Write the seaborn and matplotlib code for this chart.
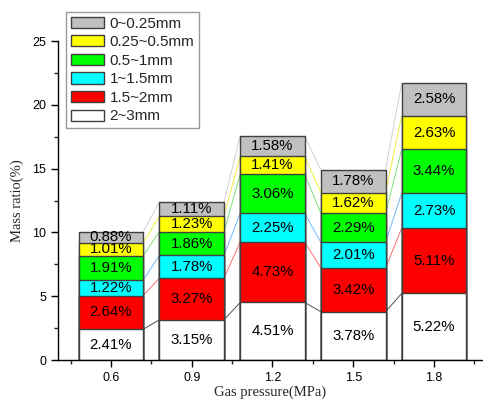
import matplotlib
matplotlib.use("Agg")
import matplotlib.pyplot as plt
import seaborn as sns
import numpy as np
import pandas as pd
from matplotlib.patches import Patch
from matplotlib.ticker import MultipleLocator, FixedLocator

pressures = ["0.6", "0.9", "1.2", "1.5", "1.8"]
size_labels = ["2~3mm", "1.5~2mm", "1~1.5mm", "0.5~1mm", "0.25~0.5mm", "0~0.25mm"]
v_2_3 = [2.41, 3.15, 4.51, 3.78, 5.22]
v_15_2 = [2.64, 3.27, 4.73, 3.42, 5.11]
v_1_15 = [1.22, 1.78, 2.25, 2.01, 2.73]
v_05_1 = [1.91, 1.86, 3.06, 2.29, 3.44]
v_025_05 = [1.01, 1.23, 1.41, 1.62, 2.63]
v_0_025 = [0.88, 1.11, 1.58, 1.78, 2.58]
series = [v_2_3, v_15_2, v_1_15, v_05_1, v_025_05, v_0_025]
fill_colors = ["#FFFFFF", "#FF0000", "#00FFFF", "#00FF00", "#FFFF00", "#C0C0C0"]
link_colors = ["#505050", "#FF7070", "#70B8FF", "#80E080", "#F0F040", "#D0D0D0"]

sns.set_style("ticks")
plt.rcParams["font.family"] = ["Liberation Sans", "DejaVu Sans"]

fig = plt.figure(figsize=(4.83, 3.99), dpi=100)
ax = fig.add_axes([0.120, 0.0977, 0.880, 0.7995])

vals = np.array(series)
cum = np.cumsum(vals, axis=0)

# draw from top layer down so stacked look is produced by overlap
for k in range(len(series) - 1, -1, -1):
    df = pd.DataFrame({"p": pressures, "v": cum[k]})
    sns.barplot(data=df, x="p", y="v", order=pressures, color=fill_colors[k],
                saturation=1, edgecolor="#404040", linewidth=1.0, width=0.8,
                ax=ax, zorder=2)

# connection lines between bars
hw = 0.4
for k in range(len(series)):
    for i in range(len(pressures) - 1):
        ax.plot([i + hw, i + 1 - hw], [cum[k][i], cum[k][i + 1]],
                color=link_colors[k], lw=0.7, zorder=1)

# labels
for k in range(len(series)):
    for i in range(len(pressures)):
        base = cum[k][i] - vals[k][i]
        ax.text(i, base + vals[k][i] / 2, f"{vals[k][i]:.2f}%",
                ha="center", va="center", fontsize=10.8, color="black", zorder=3)

ax.set_xlim(-0.656, 4.607)
ax.set_ylim(0, 25)
ax.yaxis.set_major_locator(MultipleLocator(5))
ax.yaxis.set_minor_locator(MultipleLocator(2.5))
ax.xaxis.set_minor_locator(FixedLocator([-0.5, 0.5, 1.5, 2.5, 3.5, 4.5]))
ax.tick_params(axis="both", which="major", direction="out", length=5, width=1,
               labelsize=9, colors="black")
ax.tick_params(axis="both", which="minor", direction="out", length=3, width=1)
for s in ["top", "right"]:
    ax.spines[s].set_visible(False)
for s in ["left", "bottom"]:
    ax.spines[s].set_color("black")
    ax.spines[s].set_linewidth(1.0)

ax.set_ylabel("Mass ratio(%)", fontsize=10.5, family=["Liberation Serif"], labelpad=6)
ax.set_xlabel("Gas pressure(MPa)", fontsize=10.5, family=["Liberation Serif"], labelpad=1)

handles = [Patch(facecolor=fill_colors[k], edgecolor="#404040", linewidth=1.0)
           for k in range(len(series) - 1, -1, -1)]
labels = [size_labels[k] for k in range(len(series) - 1, -1, -1)]
leg = fig.legend(handles, labels, loc="upper left", bbox_to_anchor=(66 / 483, 1 - 12 / 399),
                 fontsize=11, frameon=True, fancybox=False, handlelength=2.2,
                 handleheight=0.75, handletextpad=0.35, labelspacing=0.3,
                 borderpad=0.3, borderaxespad=0)
leg.get_frame().set_edgecolor("#808080")
leg.get_frame().set_linewidth(1.0)

fig.savefig("out.png", dpi=100)
